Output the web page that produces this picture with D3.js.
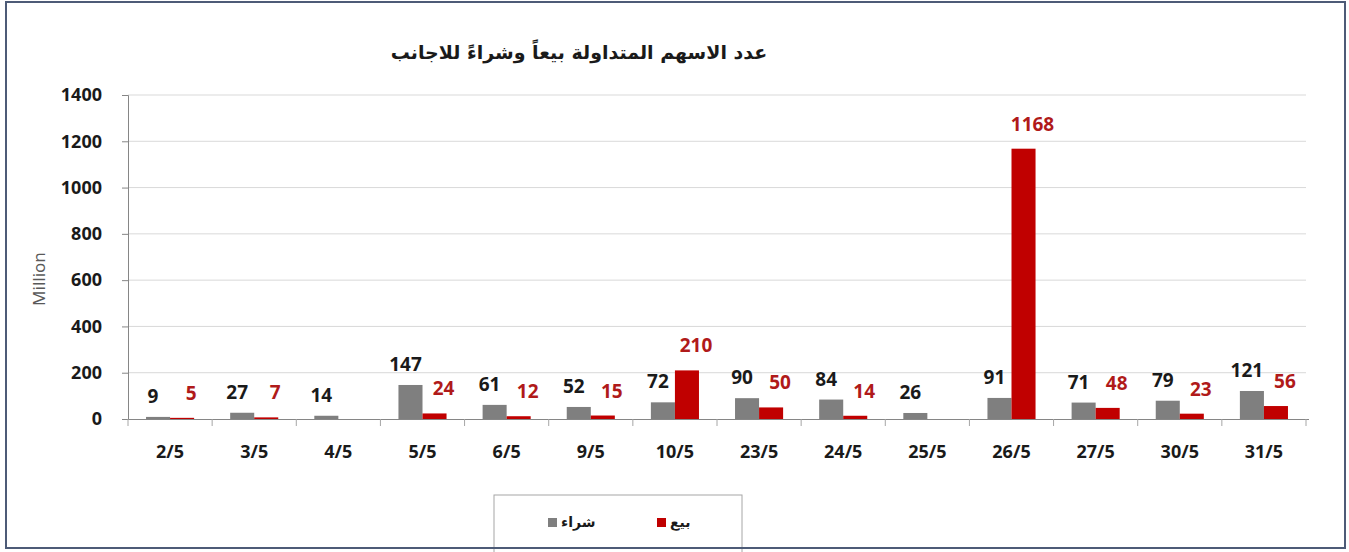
<!DOCTYPE html>
<html>
<head>
<meta charset="utf-8">
<script src="https://cdnjs.cloudflare.com/ajax/libs/d3/7.8.5/d3.min.js"></script>
<style>
  body { margin: 0; background: #fff; }
  .frame { fill: #fff; stroke: #4d5b77; stroke-width: 2px; }
  .grid line { stroke: #d9d9d9; }
  .axis text { font-family: "Noto Sans", sans-serif; font-weight: bold; font-size: 18px; fill: #1a1a1a; }
  .axis path, .axis line { stroke: #868686; }
  .lbl { font-family: "Noto Sans", sans-serif; font-weight: bold; font-size: 19px; }
</style>
</head>
<body>
<script>
// dates, buy (gray) and sell (red), million shares
var days = ["2/5","3/5","4/5","5/5","6/5","9/5","10/5","23/5","24/5","25/5","26/5","27/5","30/5","31/5"];
var buy  = [9, 27, 14, 147, 61, 52, 72, 90, 84, 26, 91, 71, 79, 121];
var sell = [5, 7, null, 24, 12, 15, 210, 50, 14, null, 1168, 48, 23, 56];
var yTicks = [0, 200, 400, 600, 800, 1000, 1200, 1400];
var seriesNames = ["شراء", "بيع"];
var seriesColors = ["#7f7f7f", "#c00000"];
var title = "عدد الاسهم المتداولة بيعاً وشراءً للاجانب";

var width = 1349, height = 552;

var svg = d3.select("body").append("svg")
    .attr("width", width)
    .attr("height", height);

svg.append("rect").attr("class", "frame")
    .attr("x", 6).attr("y", 2).attr("width", 1339).attr("height", 546);

var plotLeft = 128, plotRight = 1306, plotTop = 95, plotBottom = 419;

var x = d3.scaleBand().domain(days).range([plotLeft, plotRight]).padding(0);
var xs = d3.scaleBand().domain([0, 1]).range([0, x.bandwidth()]).paddingInner(0).paddingOuter(0.75);
var y = d3.scaleLinear().domain([0, 1400]).range([plotBottom, plotTop]);

// gridlines
svg.append("g").attr("class", "grid")
  .selectAll("line")
  .data(yTicks.slice(1))
  .enter().append("line")
  .attr("x1", plotLeft).attr("x2", plotRight)
  .attr("y1", d => y(d)).attr("y2", d => y(d));

// y axis
var yAxis = svg.append("g").attr("class", "axis")
    .attr("transform", "translate(" + plotLeft + ",0)")
    .call(d3.axisLeft(y).tickValues(yTicks).tickFormat(d3.format("d")).tickSize(6).tickPadding(20));

// x axis
var xAxis = svg.append("g").attr("class", "axis")
    .attr("transform", "translate(0," + plotBottom + ")")
    .call(d3.axisBottom(x).tickSize(0).tickPadding(26));
xAxis.select(".domain").attr("d", "M" + plotLeft + ",0.5H" + (plotRight + 3));

// category separators
var seps = days.map(d => x(d)).concat([plotRight]);
svg.append("g").selectAll("line")
  .data(seps)
  .enter().append("line")
  .attr("x1", d => d).attr("x2", d => d)
  .attr("y1", plotBottom).attr("y2", plotBottom + 7)
  .attr("stroke", "#a6a6a6");

// bars
var series = [buy, sell];
series.forEach(function(vals, s) {
  var pts = days.map((d, i) => ({day: d, v: vals[i]})).filter(p => p.v != null);
  var g = svg.append("g");
  g.selectAll("rect")
    .data(pts)
    .enter().append("rect")
    .attr("x", p => x(p.day) + xs(s))
    .attr("width", xs.bandwidth())
    .attr("y", p => y(p.v))
    .attr("height", p => plotBottom - y(p.v))
    .style("fill", seriesColors[s]);

  g.selectAll("text")
    .data(pts)
    .enter().append("text")
    .attr("class", "lbl")
    .attr("text-anchor", "middle")
    .attr("dominant-baseline", "central")
    .attr("x", p => x(p.day) + xs(s) + xs.bandwidth() / 2 + (s == 0 ? -5 : 9))
    .attr("y", p => y(p.v) - (s == 0 ? 21 : 25))
    .style("fill", s == 0 ? "#1a1a1a" : "#b01a1a")
    .text(p => p.v);
});

// title
svg.append("text")
  .attr("x", 579).attr("y", 52)
  .attr("text-anchor", "middle")
  .attr("dominant-baseline", "central")
  .style("font-family", "'DejaVu Sans', sans-serif")
  .style("font-weight", "bold")
  .style("font-size", "19px")
  .style("fill", "#1a1a1a")
  .text(title);

// y label
svg.append("text")
  .attr("transform", "translate(38,279) rotate(-90)")
  .attr("text-anchor", "middle")
  .attr("dominant-baseline", "central")
  .style("font-family", "'Noto Sans', sans-serif")
  .style("font-size", "17px")
  .style("fill", "#595959")
  .text("Million");

// legend
var legend = svg.append("g");
legend.append("rect")
  .attr("x", 494).attr("y", 495).attr("width", 248).attr("height", 60)
  .attr("fill", "#fff").attr("stroke", "#a6a6a6");
var legX = [548, 657];
seriesNames.forEach(function(name, s) {
  legend.append("rect")
    .attr("x", legX[s]).attr("y", 518).attr("width", 9).attr("height", 9)
    .attr("fill", seriesColors[s]);
  legend.append("text")
    .attr("x", legX[s] + 13).attr("y", 522)
    .attr("dominant-baseline", "central")
    .style("font-family", "'DejaVu Sans', sans-serif")
    .style("font-weight", "bold")
    .style("font-size", "14px")
    .style("fill", "#1a1a1a")
    .text(name);
});
// bottom frame edge over legend
svg.append("line")
  .attr("x1", 6).attr("x2", 1345).attr("y1", 548).attr("y2", 548)
  .attr("stroke", "#4d5b77").attr("stroke-width", 2);
</script>
</body>
</html>
